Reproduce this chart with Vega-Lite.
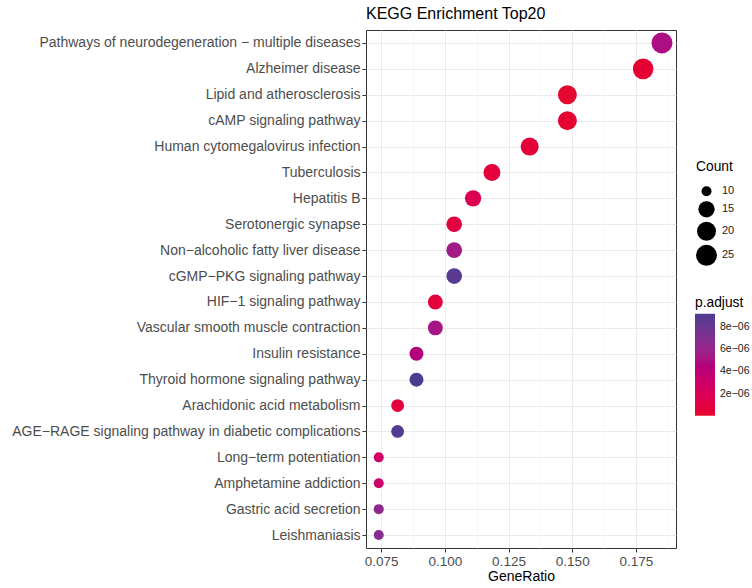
{
  "$schema": "https://vega.github.io/schema/vega-lite/v6.json",
  "width": 310,
  "height": 518,
  "autosize": {"type": "none"},
  "padding": {"left": 366, "top": 30, "right": 76, "bottom": 40},
  "background": "white",
  "title": {"text": "KEGG Enrichment Top20", "anchor": "start", "frame": "group", "fontSize": 16, "fontWeight": "normal", "font": "Liberation Sans", "color": "#000000", "offset": 8},
  "config": {
    "font": "Liberation Sans",
    "view": {"stroke": "#333333", "strokeWidth": 1}
  },
  "data": {"values": [
    {"Description": "Pathways of neurodegeneration − multiple diseases", "GeneRatio": 0.1852, "Count": 25, "padj": 5.0e-6},
    {"Description": "Alzheimer disease", "GeneRatio": 0.1778, "Count": 24, "padj": 3.0e-7},
    {"Description": "Lipid and atherosclerosis", "GeneRatio": 0.1481, "Count": 20, "padj": 1.0e-7},
    {"Description": "cAMP signaling pathway", "GeneRatio": 0.1481, "Count": 20, "padj": 2.0e-7},
    {"Description": "Human cytomegalovirus infection", "GeneRatio": 0.1333, "Count": 18, "padj": 5.0e-7},
    {"Description": "Tuberculosis", "GeneRatio": 0.1185, "Count": 16, "padj": 6.0e-7},
    {"Description": "Hepatitis B", "GeneRatio": 0.1111, "Count": 15, "padj": 1.8e-6},
    {"Description": "Serotonergic synapse", "GeneRatio": 0.1037, "Count": 14, "padj": 9.0e-7},
    {"Description": "Non−alcoholic fatty liver disease", "GeneRatio": 0.1037, "Count": 14, "padj": 5.5e-6},
    {"Description": "cGMP−PKG signaling pathway", "GeneRatio": 0.1037, "Count": 14, "padj": 8.6e-6},
    {"Description": "HIF−1 signaling pathway", "GeneRatio": 0.0963, "Count": 13, "padj": 7.0e-7},
    {"Description": "Vascular smooth muscle contraction", "GeneRatio": 0.0963, "Count": 13, "padj": 5.3e-6},
    {"Description": "Insulin resistance", "GeneRatio": 0.0889, "Count": 12, "padj": 4.6e-6},
    {"Description": "Thyroid hormone signaling pathway", "GeneRatio": 0.0889, "Count": 12, "padj": 9.2e-6},
    {"Description": "Arachidonic acid metabolism", "GeneRatio": 0.0815, "Count": 11, "padj": 8.0e-7},
    {"Description": "AGE−RAGE signaling pathway in diabetic complications", "GeneRatio": 0.0815, "Count": 11, "padj": 8.9e-6},
    {"Description": "Long−term potentiation", "GeneRatio": 0.0741, "Count": 10, "padj": 3.0e-6},
    {"Description": "Amphetamine addiction", "GeneRatio": 0.0741, "Count": 10, "padj": 3.2e-6},
    {"Description": "Gastric acid secretion", "GeneRatio": 0.0741, "Count": 10, "padj": 6.4e-6},
    {"Description": "Leishmaniasis", "GeneRatio": 0.0741, "Count": 10, "padj": 6.8e-6}
  ]},
  "mark": {"type": "circle", "opacity": 1},
  "encoding": {
    "x": {"field": "GeneRatio", "type": "quantitative",
      "scale": {"domain": [0.0691, 0.1907], "nice": false, "zero": false},
      "axis": {"values": [0.075, 0.0875, 0.1, 0.1125, 0.125, 0.1375, 0.15, 0.1625, 0.175, 0.1875],
        "labelExpr": "abs(datum.value*40 - round(datum.value*40)) < 0.01 ? format(datum.value, '.3f') : ''",
        "title": "GeneRatio",
        "labelFontSize": 13.5, "labelColor": "#4D4D4D", "labelPadding": 2,
        "tickColor": "#333333", "tickSize": 4, "domain": false,
        "tickOpacity": {"condition": {"test": "abs(datum.value*40 - round(datum.value*40)) < 0.01", "value": 1}, "value": 0},
        "grid": true,
        "gridColor": {"condition": {"test": "abs(datum.value*40 - round(datum.value*40)) < 0.01", "value": "#EBEBEB"}, "value": "#F2F2F2"},
        "gridWidth": {"condition": {"test": "abs(datum.value*40 - round(datum.value*40)) < 0.01", "value": 1}, "value": 0.6},
        "titleFontSize": 14, "titleFontWeight": "normal", "titleColor": "#000000", "titlePadding": 2}},
    "y": {"field": "Description", "type": "nominal", "sort": null,
      "scale": {"type": "point", "padding": 0.5},
      "axis": {"title": null, "labelFontSize": 14, "labelColor": "#4D4D4D", "labelPadding": 2,
        "tickColor": "#333333", "tickSize": 4, "domain": false,
        "grid": true, "gridColor": "#EBEBEB", "gridWidth": 1, "labelLimit": 400}},
    "size": {"field": "Count", "type": "quantitative",
      "scale": {"domain": [10, 11, 12, 13, 14, 15, 16, 18, 20, 24, 25], "range": [100, 165, 196, 223, 246, 267, 288, 325, 360, 425, 441]},
      "legend": {"orient": "none", "legendX": 330, "legendY": 130, "values": [10, 15, 20, 25], "title": "Count",
        "titleFontSize": 13.8, "titleFontWeight": "normal", "titleColor": "#000000", "titlePadding": 12,
        "labelFontSize": 11, "labelColor": "#1A1A1A", "symbolFillColor": "#000000", "symbolStrokeWidth": 0, "symbolOpacity": 1, "rowPadding": 4, "labelOffset": 5}},
    "color": {"field": "padj", "type": "quantitative",
      "scale": {"domain": [0, 9.2e-6], "range": ["#E60F2D", "#4C3C8F"], "interpolate": "hcl"},
      "legend": {"orient": "none", "legendX": 329, "legendY": 266, "title": "p.adjust",
        "values": [2e-6, 4e-6, 6e-6, 8e-6],
        "labelExpr": "replace(format(datum.value, '.0e'), 'e-', 'e−0')",
        "titleFontSize": 13.8, "titleFontWeight": "normal", "titleColor": "#000000", "titlePadding": 4,
        "labelFontSize": 10.5, "labelColor": "#1A1A1A", "gradientLength": 102, "gradientThickness": 20, "gradientStrokeWidth": 0, "labelOffset": 5}}
  }
}
